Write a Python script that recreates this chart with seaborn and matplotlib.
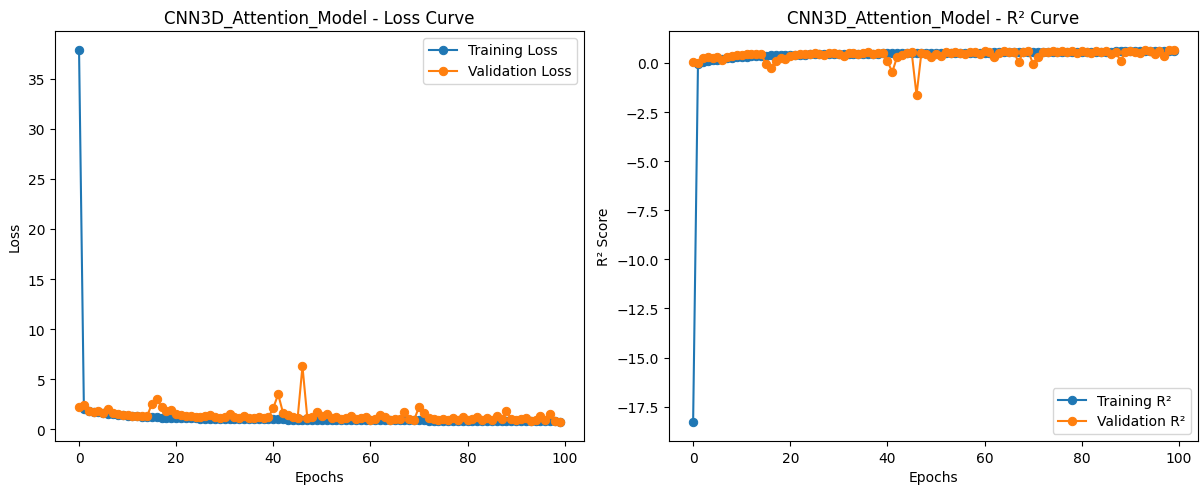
import matplotlib
matplotlib.use("Agg")
import matplotlib.pyplot as plt
import seaborn as sns
import pandas as pd

model_name = "CNN3D_Attention_Model"

train_loss = [37.9, 2.05, 1.85, 1.75, 1.70, 1.62, 1.58, 1.50, 1.46, 1.40,
              1.36, 1.33, 1.30, 1.28, 1.25, 1.22, 1.20, 1.18, 1.17, 1.15,
              1.13, 1.12, 1.11, 1.10, 1.09, 1.08, 1.07, 1.06, 1.06, 1.05,
              1.05, 1.04, 1.04, 1.03, 1.03, 1.02, 1.02, 1.01, 1.01, 1.00,
              1.00, 0.99, 0.99, 0.98, 0.98, 0.97, 0.97, 0.97, 0.96, 0.96,
              0.96, 0.95, 0.95, 0.95, 0.94, 0.94, 0.94, 0.93, 0.93, 0.93,
              0.92, 0.92, 0.92, 0.91, 0.91, 0.91, 0.90, 0.90, 0.90, 0.89,
              0.89, 0.89, 0.88, 0.88, 0.88, 0.87, 0.87, 0.87, 0.86, 0.86,
              0.86, 0.85, 0.85, 0.85, 0.84, 0.84, 0.84, 0.83, 0.83, 0.83,
              0.82, 0.82, 0.82, 0.81, 0.81, 0.81, 0.80, 0.80, 0.79, 0.78]

val_loss = [2.25, 2.45, 1.80, 1.70, 1.85, 1.65, 2.05, 1.60, 1.55, 1.45,
            1.40, 1.35, 1.30, 1.35, 1.30, 2.55, 3.05, 2.20, 1.85, 1.95,
            1.50, 1.40, 1.30, 1.35, 1.25, 1.20, 1.30, 1.45, 1.20, 1.15,
            1.25, 1.50, 1.20, 1.15, 1.30, 1.15, 1.10, 1.25, 1.15, 1.20,
            2.15, 3.50, 1.65, 1.40, 1.20, 1.10, 6.30, 1.15, 1.25, 1.70,
            1.35, 1.55, 1.10, 1.20, 1.05, 1.15, 1.30, 1.00, 1.10, 1.25,
            0.95, 1.05, 1.40, 1.20, 0.95, 1.05, 1.00, 1.75, 1.05, 0.95,
            2.25, 1.65, 1.10, 1.00, 0.95, 1.05, 0.90, 1.10, 0.95, 1.20,
            0.90, 1.00, 1.20, 0.95, 1.10, 0.90, 1.30, 1.00, 1.85, 1.05,
            0.90, 1.00, 1.15, 0.85, 0.95, 1.35, 0.90, 1.50, 0.85, 0.70]

train_r2 = [-18.3, -0.05, 0.06, 0.11, 0.13, 0.17, 0.19, 0.23, 0.26, 0.29,
            0.31, 0.32, 0.34, 0.35, 0.36, 0.38, 0.39, 0.40, 0.40, 0.41,
            0.42, 0.42, 0.43, 0.43, 0.44, 0.44, 0.45, 0.45, 0.45, 0.46,
            0.46, 0.46, 0.47, 0.47, 0.47, 0.48, 0.48, 0.48, 0.48, 0.49,
            0.49, 0.49, 0.49, 0.50, 0.50, 0.50, 0.50, 0.50, 0.51, 0.51,
            0.51, 0.51, 0.52, 0.52, 0.52, 0.52, 0.52, 0.53, 0.53, 0.53,
            0.53, 0.53, 0.54, 0.54, 0.54, 0.54, 0.54, 0.55, 0.55, 0.55,
            0.55, 0.55, 0.56, 0.56, 0.56, 0.56, 0.56, 0.57, 0.57, 0.57,
            0.57, 0.57, 0.58, 0.58, 0.58, 0.58, 0.58, 0.59, 0.59, 0.59,
            0.59, 0.59, 0.60, 0.60, 0.60, 0.60, 0.61, 0.61, 0.61, 0.62]

val_r2 = [0.06, -0.02, 0.25, 0.29, 0.23, 0.31, 0.15, 0.33, 0.35, 0.40,
          0.42, 0.44, 0.46, 0.44, 0.46, -0.05, -0.27, 0.08, 0.23, 0.19,
          0.38, 0.42, 0.46, 0.44, 0.48, 0.50, 0.46, 0.40, 0.50, 0.52,
          0.48, 0.38, 0.50, 0.52, 0.46, 0.52, 0.54, 0.48, 0.52, 0.50,
          0.10, -0.46, 0.31, 0.42, 0.50, 0.54, -1.63, 0.52, 0.48, 0.29,
          0.44, 0.35, 0.54, 0.50, 0.56, 0.52, 0.46, 0.58, 0.54, 0.48,
          0.60, 0.56, 0.30, 0.50, 0.60, 0.56, 0.58, 0.05, 0.56, 0.60,
          -0.05, 0.31, 0.54, 0.58, 0.60, 0.56, 0.62, 0.54, 0.60, 0.50,
          0.62, 0.58, 0.50, 0.60, 0.54, 0.62, 0.46, 0.58, 0.10, 0.56,
          0.62, 0.58, 0.52, 0.65, 0.60, 0.44, 0.62, 0.38, 0.65, 0.68]

epochs = list(range(len(train_loss)))

df = pd.DataFrame({"epoch": epochs, "train_loss": train_loss, "val_loss": val_loss,
                   "train_r2": train_r2, "val_r2": val_r2})

plt.rcParams["font.family"] = ["DejaVu Sans"]
fig, axes = plt.subplots(1, 2, figsize=(12.02, 4.89), dpi=100)
fig.subplots_adjust(left=55/1202, right=1198/1202, top=1-32/489, bottom=1-442/489, wspace=0.161)

blue, orange = "#1f77b4", "#ff7f0e"
ax = axes[0]
sns.lineplot(data=df, x="epoch", y="train_loss", ax=ax, marker="o", color=blue,
             markeredgecolor=blue, markersize=6, label="Training Loss")
sns.lineplot(data=df, x="epoch", y="val_loss", ax=ax, marker="o", color=orange,
             markeredgecolor=orange, markersize=6, label="Validation Loss")
ax.set_title(f"{model_name} - Loss Curve")
ax.set_xlabel("Epochs")
ax.set_ylabel("Loss")
ax.legend(loc="upper right")

ax = axes[1]
sns.lineplot(data=df, x="epoch", y="train_r2", ax=ax, marker="o", color=blue,
             markeredgecolor=blue, markersize=6, label="Training R²")
sns.lineplot(data=df, x="epoch", y="val_r2", ax=ax, marker="o", color=orange,
             markeredgecolor=orange, markersize=6, label="Validation R²")
ax.set_title(f"{model_name} - R² Curve")
ax.set_xlabel("Epochs")
ax.set_ylabel("R² Score")
ax.legend(loc="lower right")

fig.savefig("out.png", dpi=100)
